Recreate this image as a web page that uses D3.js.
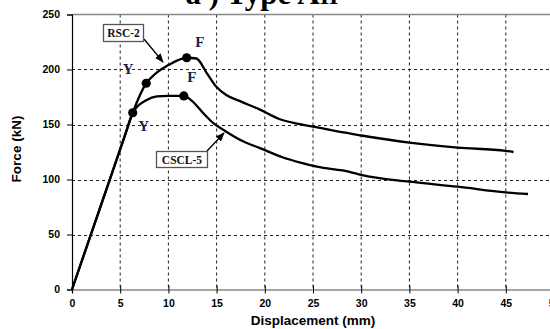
<!DOCTYPE html>
<html><head><meta charset="utf-8">
<script src="https://cdn.jsdelivr.net/npm/d3@7/dist/d3.min.js"></script>
<style>body{margin:0;background:#fff;overflow:hidden}svg{display:block}</style>
</head><body><svg id="c" width="550" height="329"></svg>
<script>
const xTicks = [0,5,10,15,20,25,30,35,40,45,50];
const yTicks = [0,50,100,150,200,250];
const rscX = [0,3,5.5,6.3,7.7,8.5,9.3,10,11,11.9,12.9,14,15,16,17.5,19.5,21.5,23.5,26,28,30,35,40,45,45.8];
const rscY = [0,76.5,140.3,160.7,187.5,195,200.5,204,208.5,210.7,210,196.5,184,176.8,171,163.5,155,150.5,146.5,143,140,133.5,129,126,125];
const csclX = [0,3,5.5,6.3,7.7,8.8,10,11.6,12.5,13.6,14.7,16,17.8,19.5,21.9,23.7,25.4,28.8,30,35,40,45,47.3];
const csclY = [0,76.5,140.3,160.7,172,175.5,176,176,171,160.5,151,143.5,134.5,128.5,120,115.3,111.6,107,104.2,98,93.5,88.3,86.8];
const markX = [7.7,11.9,6.3,11.6];
const markY = [187.5,210.7,160.7,176];
const markLab = ["Y","F","Y","F"];
const seriesNames = ["RSC-2","CSCL-5"];

const svg = d3.select("#c");
const x = d3.scaleLinear().domain([0,50]).range([72,554]);
const y = d3.scaleLinear().domain([0,250]).range([289.5,14.5]);

// title (cut off at top)
const t = svg.append("text").attr("x",262).attr("y",4).attr("text-anchor","middle")
  .attr("font-family","Liberation Serif, Times New Roman, serif").attr("font-weight","bold").attr("font-size",31).attr("fill","#000");
t.append("tspan").text("a ) Type A");
t.append("tspan").text("II").attr("font-size",24);

// grid
svg.append("g").selectAll("line").data(xTicks.filter(d=>d>0)).join("line")
  .attr("x1",d=>x(d)).attr("x2",d=>x(d)).attr("y1",y(250)).attr("y2",y(0))
  .attr("stroke","#222").attr("stroke-width",1).attr("stroke-dasharray","3,3");
svg.append("g").selectAll("line").data(yTicks.filter(d=>d>0&&d<250)).join("line")
  .attr("x1",x(0)).attr("x2",x(50)).attr("y1",d=>Math.round(y(d))+0.5).attr("y2",d=>Math.round(y(d))+0.5)
  .attr("stroke","#222").attr("stroke-width",1).attr("stroke-dasharray","3,3");
// top border
svg.append("line").attr("x1",x(0)).attr("x2",x(50)).attr("y1",y(250)).attr("y2",y(250)).attr("stroke","#888").attr("stroke-width",1.3);

// axes
const xa = svg.append("g").attr("transform",`translate(0,${y(0)})`)
  .call(d3.axisBottom(x).tickValues(xTicks).tickSize(4).tickPadding(6));
xa.select(".domain").attr("stroke","#888").attr("stroke-width",1.5);
xa.selectAll(".tick line").attr("stroke","#000").attr("y1",-4);
xa.selectAll("text").attr("font-family","Liberation Sans, Arial, sans-serif").attr("font-weight","bold").attr("font-size",10.5).attr("fill","#000");
const ya = svg.append("g").attr("transform",`translate(${x(0)},0)`)
  .call(d3.axisLeft(y).tickValues(yTicks).tickSize(5).tickPadding(7));
ya.select(".domain").attr("stroke","#000").attr("stroke-width",1.2);
ya.selectAll(".tick line").attr("stroke","#000");
ya.selectAll("text").attr("font-family","Liberation Sans, Arial, sans-serif").attr("font-weight","bold").attr("font-size",10.5).attr("fill","#000");

svg.append("text").attr("x",313).attr("y",325).attr("text-anchor","middle")
  .attr("font-family","Liberation Sans, Arial, sans-serif").attr("font-weight","bold").attr("font-size",13.5).text("Displacement (mm)");
svg.append("text").attr("transform","translate(21,149) rotate(-90)").attr("text-anchor","middle")
  .attr("font-family","Liberation Sans, Arial, sans-serif").attr("font-weight","bold").attr("font-size",13.5).text("Force (kN)");

// curves
const line = d3.line().x(d=>x(d[0])).y(d=>y(d[1])).curve(d3.curveMonotoneX);
[[rscX,rscY],[csclX,csclY]].forEach(([xs,ys])=>{
  svg.append("path").attr("d",line(xs.map((v,i)=>[v,ys[i]]))).attr("fill","none").attr("stroke","#000").attr("stroke-width",2.3);
});

// markers
svg.append("g").selectAll("circle").data(markX).join("circle")
  .attr("cx",d=>x(d)).attr("cy",(d,i)=>y(markY[i])).attr("r",4.6).attr("fill","#000");
const labOff = [[-18,-9],[13,-11],[11,18],[8,-14]];
svg.append("g").selectAll("text").data(markLab).join("text")
  .attr("x",(d,i)=>x(markX[i])+labOff[i][0]).attr("y",(d,i)=>y(markY[i])+labOff[i][1])
  .attr("text-anchor","middle").attr("font-family","Liberation Serif, Times New Roman, serif")
  .attr("font-weight","bold").attr("font-size",15).attr("fill","#1b1b4a").text(d=>d);

// callouts
svg.append("defs").append("marker").attr("id","ah").attr("viewBox","0 0 10 10").attr("refX",9).attr("refY",5)
  .attr("markerWidth",7).attr("markerHeight",7).attr("orient","auto")
  .append("path").attr("d","M0,1 L10,5 L0,9 Z").attr("fill","#000");
const boxes = [{x:103,y:24,w:40,h:17,ax1:144,ay1:39,ax2:163,ay2:62},
               {x:156,y:151,w:51,h:16,ax1:207,ay1:151,ax2:224,ay2:133}];
boxes.forEach((b,i)=>{
  svg.append("line").attr("x1",b.ax1).attr("y1",b.ay1).attr("x2",b.ax2).attr("y2",b.ay2)
    .attr("stroke","#000").attr("stroke-width",1.3).attr("marker-end","url(#ah)");
  svg.append("rect").attr("x",b.x+0.5).attr("y",b.y+0.5).attr("width",b.w).attr("height",b.h)
    .attr("fill","#fff").attr("stroke","#555").attr("stroke-width",1.3);
  svg.append("text").attr("x",b.x+b.w/2+0.5).attr("y",b.y+b.h/2+4.5).attr("text-anchor","middle")
    .attr("font-family","Liberation Serif, Times New Roman, serif").attr("font-weight","bold").attr("font-size",11.5)
    .attr("fill","#111").text(seriesNames[i]);
});
</script></body></html>
